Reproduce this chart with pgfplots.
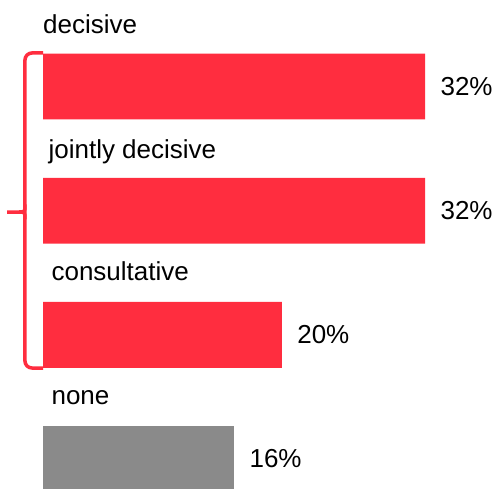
\documentclass[border=0pt]{standalone}
\usepackage{fontspec}
\setmainfont{Liberation Sans}
\usepackage{pgfplots}
\pgfplotsset{compat=1.18}
\definecolor{barred}{RGB}{255,45,63}
\definecolor{bargray}{RGB}{138,138,138}
\begin{document}
\begin{tikzpicture}
\path[use as bounding box] (0,0) rectangle (497pt,488pt);
\begin{axis}[
  at={(0,0)}, anchor=south west,
  scale only axis, width=497pt, height=488pt,
  xmin=-3.602, xmax=38.03,
  ymin=-0.6966, ymax=3.2335,
  y dir=reverse,
  hide axis,
  xbar, bar width=0.53, bar shift=0pt,
  clip=true,
  /pgf/number format/assume math mode=true,
  nodes near coords={\pgfmathprintnumber{\pgfplotspointmeta}\%},
  nodes near coords style={font=\fontsize{26}{30}\selectfont, black, anchor=west, xshift=12pt},
  point meta=x,
]
\addplot[fill=barred, draw=none] coordinates {(32,0) (32,1) (20,2)};
\addplot[fill=bargray, draw=none] coordinates {(16,3)};
\begin{scope}[every node/.style={font=\fontsize{26}{30}\selectfont, anchor=base west, inner sep=0pt}]
\node at (axis cs:0,-0.43) {decisive};
\node at (axis cs:0.45,0.577) {jointly decisive};
\node at (axis cs:0.7,1.56) {consultative};
\node at (axis cs:0.7,2.56) {none};
\end{scope}
\draw[barred, line width=3.5pt, rounded corners=7pt] (axis cs:0,-0.27) -- (axis cs:-1.51,-0.27) -- (axis cs:-1.51,2.267) -- (axis cs:0,2.267);
\draw[barred, line width=3.5pt] (axis cs:-1.51,0.95) .. controls (axis cs:-1.51,1.0107) .. (axis cs:-2.0,1.0107) -- (axis cs:-3.0,1.0107);
\draw[barred, line width=3.5pt] (axis cs:-1.51,1.07) .. controls (axis cs:-1.51,1.0107) .. (axis cs:-2.0,1.0107);
\end{axis}
\end{tikzpicture}
\end{document}
